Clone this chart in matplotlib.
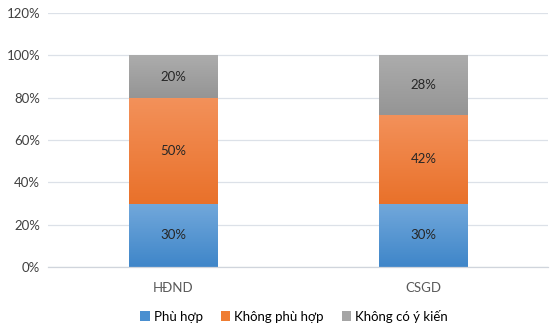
import numpy as np
import matplotlib.pyplot as plt
from matplotlib.patches import Patch
import matplotlib.colors as mcolors

categories = ["HĐND", "CSGD"]
phu_hop = [30, 30]
khong_phu_hop = [50, 42]
khong_y_kien = [20, 28]
series_names = ["Phù hợp", "Không phù hợp", "Không có ý kiến"]
yticks = [0, 20, 40, 60, 80, 100, 120]

# (top colour, bottom colour, legend colour)
styles = [("#72A8DB", "#3F86C9", "#4A8FD0"),
          ("#F3915A", "#E9712A", "#EF7D32"),
          ("#ACACAC", "#959595", "#A5A5A5")]

plt.rcParams['font.family'] = ['Lato', 'DejaVu Sans']
fig = plt.figure(figsize=(5.5, 3.26), dpi=100)
ax = fig.add_axes([0.088, 0.181, 0.909, 0.779])

x = np.arange(len(categories))
w = 0.356
bottoms = np.zeros(len(categories))
for vals, (ctop, cbot, _) in zip([phu_hop, khong_phu_hop, khong_y_kien], styles):
    cmap = mcolors.LinearSegmentedColormap.from_list("g", [cbot, ctop])
    grad = np.linspace(0, 1, 100).reshape(-1, 1)
    for i, v in enumerate(vals):
        b = bottoms[i]
        ax.imshow(grad, cmap=cmap, origin='lower', aspect='auto',
                  extent=(x[i] - w / 2, x[i] + w / 2, b, b + v), zorder=2)
        ax.text(x[i], b + v / 2, f"{v}%", ha='center', va='center',
                fontsize=9.5, color='#262626', zorder=3)
    bottoms += np.array(vals)

ax.set_xlim(-0.5, 1.5)
ax.set_ylim(0, 120)
ax.set_yticks(yticks)
ax.set_yticklabels([f"{t}%" for t in yticks], fontsize=9.5, color='#404040')
ax.set_xticks(x)
ax.set_xticklabels(categories, fontsize=9.5, color='#595959')
ax.tick_params(axis='y', length=0, pad=6)
ax.tick_params(axis='x', length=0, pad=11)
ax.grid(axis='y', color='#DCE1E8', linewidth=0.9, zorder=0)
ax.set_axisbelow(True)
for s in ['top', 'right', 'left']:
    ax.spines[s].set_visible(False)
ax.spines['bottom'].set_color('#D0D5DC')
ax.spines['bottom'].set_linewidth(0.9)

handles = [Patch(facecolor=c, label=n) for n, (_, _, c) in zip(series_names, styles)]
fig.legend(handles=handles, loc='center', bbox_to_anchor=(0.535, 0.03), ncol=3,
           frameon=False, fontsize=9.5, handlelength=0.7, handleheight=0.7,
           handletextpad=0.3, columnspacing=1.4)

fig.savefig("out.png", dpi=100)
